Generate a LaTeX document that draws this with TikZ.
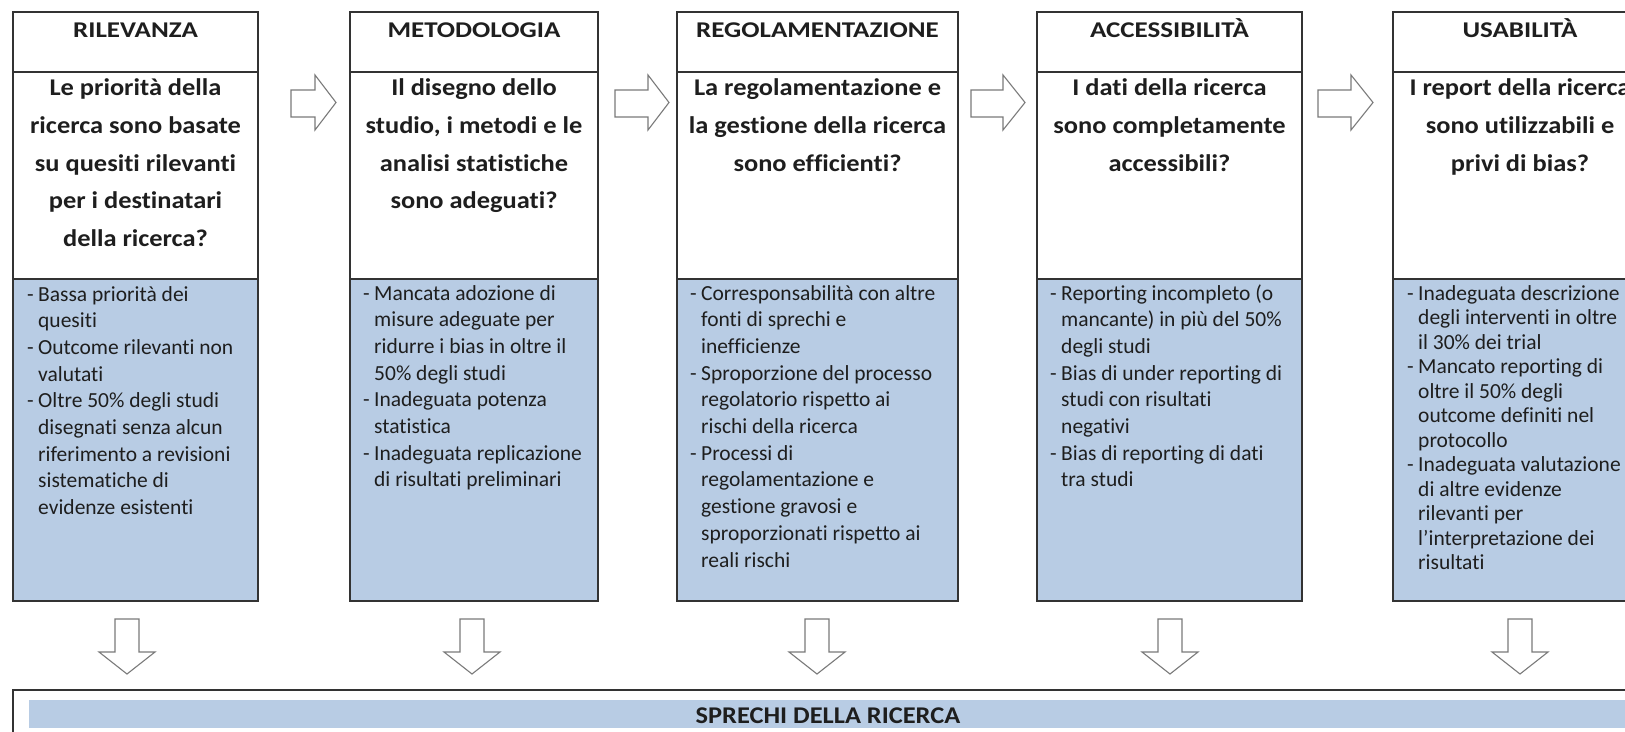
\documentclass[tikz,border=0pt]{standalone}
\usepackage{fontspec}
\setmainfont{Carlito}[Ligatures=TeX,RawFeature={-liga;-clig;-dlig;-calt;-rlig;-ccmp}]
\newfontfamily\qfont[FakeStretch=1.1,RawFeature={-liga;-clig;-dlig;-calt;-rlig;-ccmp}]{Carlito}
\newfontfamily\hfont[FakeStretch=1.2,RawFeature={-liga;-clig;-dlig;-calt;-rlig;-ccmp}]{Carlito}
\definecolor{lblue}{HTML}{B8CCE4}
\definecolor{bordc}{HTML}{333333}
\definecolor{arrc}{HTML}{7A7A7A}
\definecolor{txt}{HTML}{1E1E1E}
\newcommand\bdash{\makebox[11pt][l]{-}}
\begin{document}
\begin{tikzpicture}[x=1pt,y=-1pt,
  box/.style={draw=bordc, line width=1.4pt, rectangle, inner sep=0pt, outer sep=0pt, anchor=north west},
  wbox/.style={box, fill=white},
  bbox/.style={box, fill=lblue},
  hd/.style={font=\hfont\bfseries\fontsize{22.5}{25}\selectfont, text=txt, anchor=base, inner sep=0pt},
  qs/.style={font=\qfont\bfseries\fontsize{24}{37.8}\selectfont, text=txt, anchor=base, inner sep=0pt},
  bl/.style={font=\fontsize{21.5}{26.7}\selectfont, text=txt, anchor=base west, inner sep=0pt},
  blt/.style={font=\fontsize{21.5}{24.5}\selectfont, text=txt, anchor=base west, inner sep=0pt},
  barrow/.style={draw=arrc, line width=1.1pt, fill=white, line join=miter}]
\useasboundingbox (0,0) rectangle (1625,731);
\clip (0,0) rectangle (1625,731);
\fill[white] (0,0) rectangle (1625,731);

% column boxes
\node[wbox, minimum width=245pt, minimum height=60pt]  (h1) at (13,12) {};
\node[wbox, minimum width=245pt, minimum height=207pt] (q1) at (13,72) {};
\node[bbox, minimum width=245pt, minimum height=322pt] (l1) at (13,279) {};

\node[wbox, minimum width=248pt, minimum height=60pt]  (h2) at (350,12) {};
\node[wbox, minimum width=248pt, minimum height=207pt] (q2) at (350,72) {};
\node[bbox, minimum width=248pt, minimum height=322pt] (l2) at (350,279) {};

\node[wbox, minimum width=281pt, minimum height=60pt]  (h3) at (677,12) {};
\node[wbox, minimum width=281pt, minimum height=207pt] (q3) at (677,72) {};
\node[bbox, minimum width=281pt, minimum height=322pt] (l3) at (677,279) {};

\node[wbox, minimum width=265pt, minimum height=60pt]  (h4) at (1037,12) {};
\node[wbox, minimum width=265pt, minimum height=207pt] (q4) at (1037,72) {};
\node[bbox, minimum width=265pt, minimum height=322pt] (l4) at (1037,279) {};

\node[wbox, minimum width=254pt, minimum height=60pt]  (h5) at (1393,12) {};
\node[wbox, minimum width=254pt, minimum height=207pt] (q5) at (1393,72) {};
\node[bbox, minimum width=254pt, minimum height=322pt] (l5) at (1393,279) {};

% headers
\node[hd] (t1) at (135.5,37.3) {RILEVANZA};
\node[hd] (t2) at (474,37.3) {METODOLOGIA};
\node[hd] (t3) at (817.5,37.3) {REGOLAMENTAZIONE};
\node[hd] (t4) at (1169.5,37.3) {ACCESSIBILITÀ};
\node[hd] (t5) at (1520,37.3) {USABILITÀ};

% questions
\node[qs] (qt1) at (135.5,95.5) {\begin{tabular}[t]{@{}c@{}}Le priorità della\\ricerca sono basate\\su quesiti rilevanti\\per i destinatari\\della ricerca?\end{tabular}};
\node[qs] (qt2) at (474,95.5) {\begin{tabular}[t]{@{}c@{}}Il disegno dello\\studio, i metodi e le\\analisi statistiche\\sono adeguati?\end{tabular}};
\node[qs] (qt3) at (817.5,95.5) {\begin{tabular}[t]{@{}c@{}}La regolamentazione e\\la gestione della ricerca\\sono efficienti?\end{tabular}};
\node[qs] (qt4) at (1169.5,95.5) {\begin{tabular}[t]{@{}c@{}}I dati della ricerca\\sono completamente\\accessibili?\end{tabular}};
\node[qs] (qt5) at (1520,95.5) {\begin{tabular}[t]{@{}c@{}}I report della ricerca\\sono utilizzabili e\\privi di bias?\end{tabular}};

% bullet lists
\node[bl] (bt1) at (27,301) {\begin{tabular}[t]{@{}l@{}l@{}}\bdash&Bassa priorità dei\\&quesiti\\\bdash&Outcome rilevanti non\\&valutati\\\bdash&Oltre 50\% degli studi\\&disegnati senza alcun\\&riferimento a revisioni\\&sistematiche di\\&evidenze esistenti\end{tabular}};
\node[bl] (bt2) at (363,300) {\begin{tabular}[t]{@{}l@{}l@{}}\bdash&Mancata adozione di\\&misure adeguate per\\&ridurre i bias in oltre il\\&50\% degli studi\\\bdash&Inadeguata potenza\\&statistica\\\bdash&Inadeguata replicazione\\&di risultati preliminari\end{tabular}};
\node[bl] (bt3) at (690,300) {\begin{tabular}[t]{@{}l@{}l@{}}\bdash&Corresponsabilità con altre\\&fonti di sprechi e\\&inefficienze\\\bdash&Sproporzione del processo\\&regolatorio rispetto ai\\&rischi della ricerca\\\bdash&Processi di\\&regolamentazione e\\&gestione gravosi e\\&sproporzionati rispetto ai\\&reali rischi\end{tabular}};
\node[bl] (bt4) at (1050,300) {\begin{tabular}[t]{@{}l@{}l@{}}\bdash&Reporting incompleto (o\\&mancante) in più del 50\%\\&degli studi\\\bdash&Bias di under reporting di\\&studi con risultati\\&negativi\\\bdash&Bias di reporting di dati\\&tra studi\end{tabular}};
\node[blt] (bt5) at (1407,300) {\begin{tabular}[t]{@{}l@{}l@{}}\bdash&Inadeguata descrizione\\&degli interventi in oltre\\&il 30\% dei trial\\\bdash&Mancato reporting di\\&oltre il 50\% degli\\&outcome definiti nel\\&protocollo\\\bdash&Inadeguata valutazione\\&di altre evidenze\\&rilevanti per\\&l’interpretazione dei\\&risultati\end{tabular}};

% right block arrows
\foreach \xa/\xb/\xc in {291/315/336, 615/648/669, 971/1003/1025, 1318/1351/1373}{
  \draw[barrow] (\xa,90) -- (\xb,90) -- (\xb,75) -- (\xc,102.5) -- (\xb,130) -- (\xb,117) -- (\xa,117) -- cycle;
}
% down block arrows
\foreach \c in {127, 472, 817, 1170, 1520}{
  \draw[barrow] (\c-12,619) -- (\c+12,619) -- (\c+12,652) -- (\c+28,652) -- (\c,674) -- (\c-28,652) -- (\c-12,652) -- cycle;
}

% bottom box
\node[wbox, minimum width=1640pt, minimum height=120pt] (bot) at (13,690) {};
\node[fill=lblue, anchor=north west, inner sep=0pt, minimum width=1620pt, minimum height=28pt] (band) at (29,700) {};
\node[font=\qfont\bfseries\fontsize{24}{28}\selectfont, text=txt, anchor=base, inner sep=0pt] (sp) at (828,723) {SPRECHI DELLA RICERCA};
\end{tikzpicture}
\end{document}
